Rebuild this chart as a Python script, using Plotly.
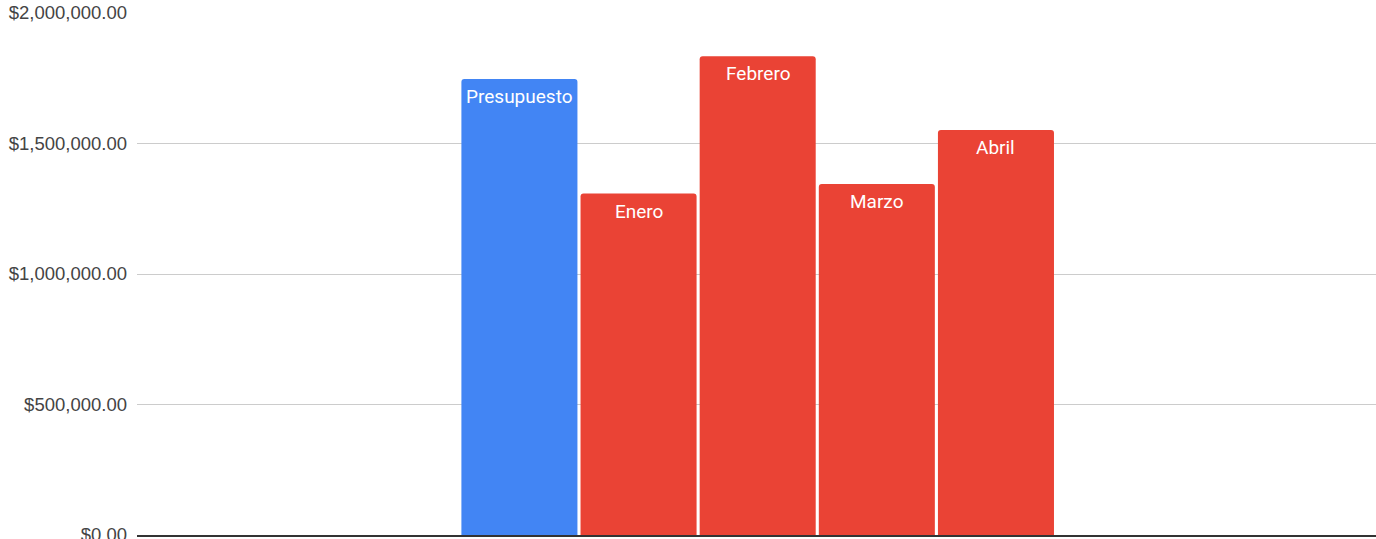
import plotly.graph_objects as go

categories = ["Presupuesto", "Enero", "Febrero", "Marzo", "Abril"]
values = [1747000, 1308000, 1834000, 1345000, 1552000]
colors = ["#4285F4", "#EA4335", "#EA4335", "#EA4335", "#EA4335"]
y_ticks = [0, 500000, 1000000, 1500000, 2000000]

fig = go.Figure(go.Bar(
    x=list(range(len(categories))),
    y=values,
    marker=dict(color=colors, line=dict(width=0)),
    hoverinfo="skip",
))

for i, (name, val) in enumerate(zip(categories, values)):
    fig.add_annotation(
        x=i, y=val, text=name, showarrow=False,
        xanchor="center", yanchor="top", yshift=-4,
        font=dict(family="Roboto", size=19, color="white"),
    )

fig.update_layout(
    width=1376, height=539,
    margin=dict(l=137, r=0, t=13, b=4, autoexpand=False),
    plot_bgcolor="white", paper_bgcolor="white",
    bargap=0.026,
    barcornerradius=3,
    showlegend=False,
)
fig.update_xaxes(
    range=[-3.21, 7.19], showticklabels=False, showgrid=False,
    zeroline=False, showline=True, linecolor="#333333", linewidth=1.5,
)
fig.update_yaxes(
    range=[0, 2000000], tickvals=y_ticks, tickformat="$,.2f",
    showgrid=True, gridcolor="#cccccc", gridwidth=1,
    zeroline=False, showline=False,
    tickfont=dict(family="Liberation Sans, Arial", size=18.5, color="#444444"),
    ticks="", ticklabelstandoff=9, ticklabeloverflow="allow",
)

fig.write_html("out.html")
